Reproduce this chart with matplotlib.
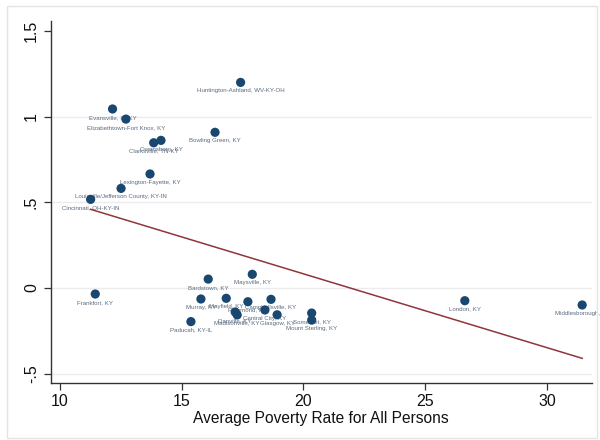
import numpy as np
import matplotlib
matplotlib.use("Agg")
import matplotlib.pyplot as plt
from matplotlib.patches import Rectangle

plt.rcParams["font.family"] = ["Liberation Sans", "DejaVu Sans"]

# Metro / micro areas: average poverty rate vs. outcome
areas = [
    "Huntington-Ashland, WV-KY-OH", "Evansville, IN-KY", "Elizabethtown-Fort Knox, KY",
    "Clarksville, TN-KY", "Owensboro, KY", "Bowling Green, KY", "Lexington-Fayette, KY",
    "Louisville/Jefferson County, KY-IN", "Cincinnati, OH-KY-IN", "Frankfort, KY",
    "Bardstown, KY", "Maysville, KY", "Murray, KY", "Mayfield, KY", "Richmond, KY",
    "Campbellsville, KY", "Danville, KY", "Madisonville, KY", "Central City, KY",
    "Glasgow, KY", "Paducah, KY-IL", "Somerset, KY", "Mount Sterling, KY",
    "London, KY", "Middlesborough, KY",
]
poverty = [
    17.42, 12.16, 12.71, 13.85, 14.15, 16.37, 13.70, 12.51, 11.26, 11.45,
    16.09, 17.90, 15.79, 16.83, 17.72, 18.67, 17.20, 17.28, 18.42, 18.92,
    15.38, 20.34, 20.34, 26.63, 31.45,
]
outcome = [
    1.199, 1.044, 0.985, 0.847, 0.861, 0.908, 0.665, 0.581, 0.517, -0.035,
    0.052, 0.080, -0.064, -0.060, -0.080, -0.066, -0.140, -0.157, -0.128, -0.156,
    -0.196, -0.146, -0.187, -0.074, -0.099,
]
# fitted line coefficients
fit_intercept = 0.9436
fit_slope = -0.04304

x_ticks = [10, 15, 20, 25, 30]
y_ticks = [-0.5, 0, 0.5, 1, 1.5]
y_tick_labels = ["-.5", "0", ".5", "1", "1.5"]

navy = "#1a476f"
maroon = "#90353b"

fig = plt.figure(figsize=(6, 4.4), dpi=100)
fig.patch.set_facecolor("white")
fig.add_artist(Rectangle((7 / 600, 2 / 440), 590 / 600, 432 / 440,
                         transform=fig.transFigure, fill=False,
                         edgecolor="#e4e4e4", linewidth=1.0))

ax = fig.add_axes([0.0845, 0.1295, 0.902, 0.8239])
ax.set_xlim(9.62, 31.85)
ax.set_ylim(-0.554, 1.56)

# horizontal grid lines (none at the top tick)
for yv in y_ticks[:-1]:
    ax.axhline(yv, color="#ececec", linewidth=1.0, zorder=0)

x = np.array(poverty)
y = np.array(outcome)

for name, xv, yv in zip(areas, x, y):
    ax.annotate(name, (xv, yv), xytext=(0, -4.2), textcoords="offset points",
                ha="center", va="top", fontsize=4.4, color="#5a6a80", zorder=2)

ax.scatter(x, y, s=44, color=navy, edgecolors="none", zorder=3)

xf = np.array([x.min(), x.max()])
ax.plot(xf, fit_intercept + fit_slope * xf, color=maroon, linewidth=1.1, zorder=4)

for side in ("top", "right"):
    ax.spines[side].set_visible(False)
for side in ("left", "bottom"):
    ax.spines[side].set_color("#333333")
    ax.spines[side].set_linewidth(1.0)

ax.set_xticks(x_ticks)
ax.set_yticks(y_ticks)
ax.set_yticklabels(y_tick_labels, rotation=90, va="center")
ax.tick_params(axis="both", length=5, width=0.9, color="#333333",
               labelsize=11.5, labelcolor="#111111")
ax.tick_params(axis="y", pad=3.5)
ax.tick_params(axis="x", pad=3)

ax.set_xlabel("Average Poverty Rate for All Persons", fontsize=11.2,
              color="#111111", labelpad=1)

fig.savefig("out.png", dpi=100, facecolor="white")
